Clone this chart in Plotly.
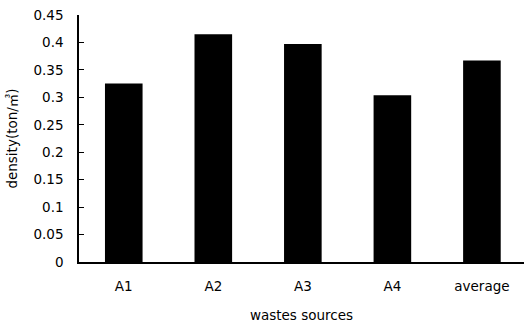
import plotly.graph_objects as go

categories = ["A1", "A2", "A3", "A4", "average"]
density = [0.325, 0.415, 0.397, 0.304, 0.367]
ytick_vals = [0, 0.05, 0.1, 0.15, 0.2, 0.25, 0.3, 0.35, 0.4, 0.45]
ytick_text = ["0", "0.05", "0.1", "0.15", "0.2", "0.25", "0.3", "0.35", "0.4", "0.45"]

fig = go.Figure(go.Bar(x=categories, y=density, marker_color="black",
                       marker_line_width=0, width=0.42))

font = dict(family="DejaVu Sans, Noto Sans CJK SC", size=13.5, color="black")
fig.update_layout(
    width=524, height=325,
    margin=dict(l=79, r=0, t=15, b=63),
    paper_bgcolor="white", plot_bgcolor="white",
    font=font, showlegend=False,
    xaxis=dict(range=[-0.5, 4.47], showline=True, linecolor="black", linewidth=1.5,
               ticks="", showgrid=False, ticklabelstandoff=11, automargin=False,
               title=dict(text="wastes sources", standoff=18, font=font)),
    yaxis=dict(range=[0, 0.45], tickvals=ytick_vals, ticktext=ytick_text,
               showline=True, linecolor="black", linewidth=1.5, ticks="inside",
               ticklen=5, tickcolor="black", showgrid=False, zeroline=False,
               ticklabelstandoff=11, automargin=False,
               title=dict(text="density(ton/㎥)", standoff=13, font=font)),
)
fig.write_html("out.html", config={"displayModeBar": False},
               post_script="document.body.style.margin='0';")
